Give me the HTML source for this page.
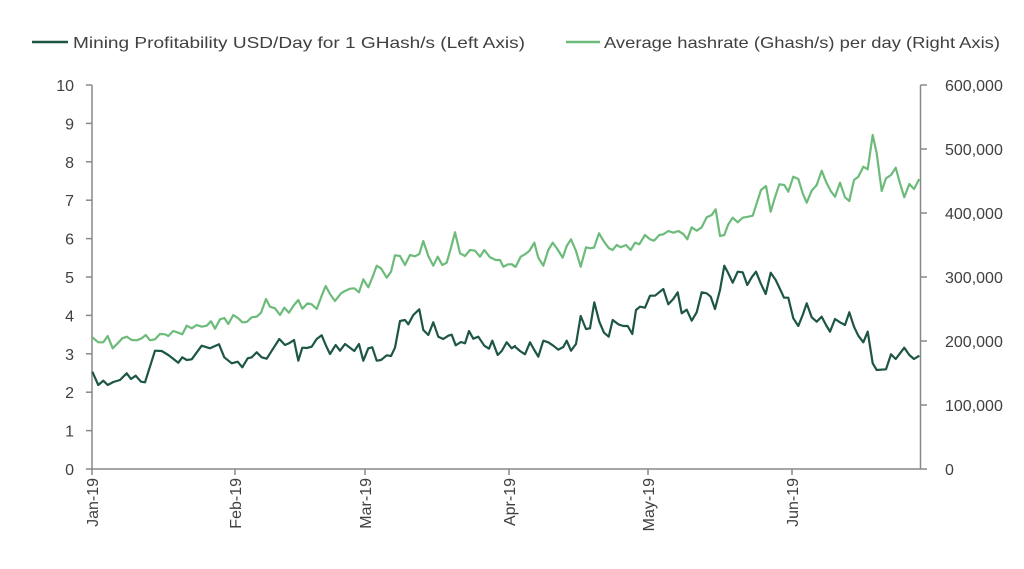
<!DOCTYPE html>
<html><head><meta charset="utf-8"><style>
html,body{margin:0;padding:0;background:#fff;width:1024px;height:569px;overflow:hidden}
svg text{font-family:"Liberation Sans",sans-serif;fill:#404040}
</style></head><body>
<svg id="s" width="1024" height="569" xmlns="http://www.w3.org/2000/svg">
<line x1="32" y1="42" x2="68" y2="42" stroke="#1d5546" stroke-width="2.5"/>
<text x="73" y="48" font-size="16" textLength="452" lengthAdjust="spacingAndGlyphs">Mining Profitability USD/Day for 1 GHash/s (Left Axis)</text>
<line x1="566" y1="42" x2="600" y2="42" stroke="#6dbb7a" stroke-width="2.5"/>
<text x="604" y="48" font-size="16" textLength="396" lengthAdjust="spacingAndGlyphs">Average hashrate (Ghash/s) per day (Right Axis)</text>
<g stroke="#888" stroke-width="1.5">
<line x1="92" y1="85" x2="92" y2="469"/>
<line x1="920.5" y1="85" x2="920.5" y2="469"/>
<line x1="92" y1="469" x2="920.5" y2="469"/>
</g>
<g id="ticks" stroke="#888" stroke-width="1.5"></g>
<g id="labels" font-size="16"></g>
<polyline id="light" fill="none" stroke="#6dbb7a" stroke-width="2.2" stroke-linejoin="round"/>
<polyline id="dark" fill="none" stroke="#1d5546" stroke-width="2.2" stroke-linejoin="round"/>
</svg>
<script>
var NS="http://www.w3.org/2000/svg";
function el(t,a,p,txt){var e=document.createElementNS(NS,t);for(var k in a)e.setAttribute(k,a[k]);if(txt!==undefined)e.textContent=txt;document.getElementById(p).appendChild(e);}
for(var i=0;i<=10;i++){var y=469-i*38.4;
el('line',{x1:86,y1:y,x2:92,y2:y},'ticks');
el('text',{x:74,y:y+6,'text-anchor':'end'},'labels',String(i));}
var r=['0','100,000','200,000','300,000','400,000','500,000','600,000'];
for(var i=0;i<=6;i++){var y=469-i*64;
el('line',{x1:920.5,y1:y,x2:927,y2:y},'ticks');
el('text',{x:945,y:y+6},'labels',r[i]);}
var m=[[92,'Jan-19'],[235,'Feb-19'],[365,'Mar-19'],[509,'Apr-19'],[648,'May-19'],[792,'Jun-19']];
m.forEach(function(a){el('line',{x1:a[0],y1:469,x2:a[0],y2:475},'ticks');
el('text',{x:0,y:0,'text-anchor':'end',transform:'translate('+(a[0]+6)+',478) rotate(-90)'},'labels',a[1]);});
function pts(a1,a2){var s=[];for(var i=0;i<a1.length;i+=2)s.push((85+a1[i]/3).toFixed(1)+','+(120+a1[i+1]/3).toFixed(1));
for(var i=0;i<a2.length;i+=2)s.push((500+a2[i]/3).toFixed(1)+','+(120+a2[i+1]/3).toFixed(1));return s.join(' ');}
var d1=[22,755,40,795,55,782,68,795,85,786,105,780,125,760,138,777,152,767,168,785,180,787,210,692,230,693,250,705,280,728,292,712,305,720,320,718,350,677,375,685,402,673,418,712,440,730,458,725,472,742,488,715,500,712,515,697,530,712,545,716,565,685,583,657,600,675,612,670,627,660,640,722,652,683,665,684,680,680,695,657,710,646,722,675,735,702,752,675,765,692,780,672,795,683,808,693,822,672,835,722,850,685,862,682,875,722,888,720,905,706,918,708,930,683,945,603,960,600,970,613,985,585,1003,568,1015,630,1030,645,1045,607,1060,650,1075,657,1090,647,1100,644,1112,676,1128,666,1140,670,1152,633,1165,656,1180,650,1198,677,1212,686,1222,662,1238,705,1250,693,1265,667,1280,685,1290,678];
var d2=[45,680,60,693,75,703,90,667,103,690,115,710,130,662,145,667,160,677,175,689,190,681,200,662,213,692,228,672,242,588,258,627,270,625,283,547,298,605,312,638,326,650,338,600,355,613,370,618,383,618,397,642,408,570,420,560,435,563,450,527,465,527,490,507,505,553,520,537,533,517,545,580,560,569,575,602,590,577,605,517,620,520,632,530,645,567,660,510,673,437,685,460,698,488,713,455,728,457,742,495,755,472,768,455,782,490,797,522,812,458,827,480,840,507,852,533,865,533,880,595,895,618,908,585,920,550,935,592,950,605,965,590,978,615,990,635,1005,597,1020,607,1035,615,1048,577,1062,620,1075,647,1090,667,1103,635,1118,730,1130,750,1158,748,1173,703,1187,717,1200,700,1213,683,1228,705,1242,717,1258,707];
var l1=[22,652,40,667,55,667,68,648,83,685,100,668,112,655,125,650,140,660,155,661,170,655,182,645,195,661,210,658,225,642,240,643,250,648,265,633,280,638,292,643,305,617,320,625,335,615,350,620,365,617,378,604,390,626,405,598,418,594,430,612,445,585,460,595,472,607,485,606,500,592,515,590,528,578,543,537,555,560,570,565,585,585,598,563,612,578,627,555,640,540,652,566,668,550,680,553,695,567,710,527,722,498,735,522,750,543,768,520,780,513,795,506,808,505,822,517,835,478,850,502,862,473,875,437,888,445,905,473,918,455,930,406,945,408,960,435,975,405,990,409,1003,402,1015,363,1030,408,1045,437,1058,410,1072,435,1085,428,1098,383,1110,337,1125,400,1140,408,1155,390,1170,392,1185,410,1198,390,1215,412,1232,420,1245,420,1255,440,1270,433,1282,433,1290,440];
var l2=[35,433,47,440,62,410,75,403,88,393,103,368,115,413,130,437,145,390,158,368,172,387,188,413,200,378,213,358,228,393,242,440,258,382,270,385,282,383,297,340,312,365,327,385,338,390,350,375,362,382,378,375,392,390,405,368,418,373,435,345,450,358,462,362,478,345,490,343,505,333,520,338,535,333,550,342,562,358,575,322,590,332,605,322,620,292,635,285,647,268,660,348,673,345,685,313,698,293,713,307,728,293,745,290,758,287,770,250,783,210,798,198,812,275,825,232,838,193,853,195,865,215,880,170,895,177,908,220,920,248,935,212,950,195,965,152,978,185,992,213,1005,230,1020,188,1035,232,1048,243,1062,180,1075,170,1090,140,1103,148,1118,45,1130,100,1145,213,1158,175,1173,165,1187,143,1200,190,1213,232,1228,192,1242,207,1258,177];
document.getElementById('dark').setAttribute('points',pts(d1,d2));
document.getElementById('light').setAttribute('points',pts(l1,l2));
</script>
</body></html>
